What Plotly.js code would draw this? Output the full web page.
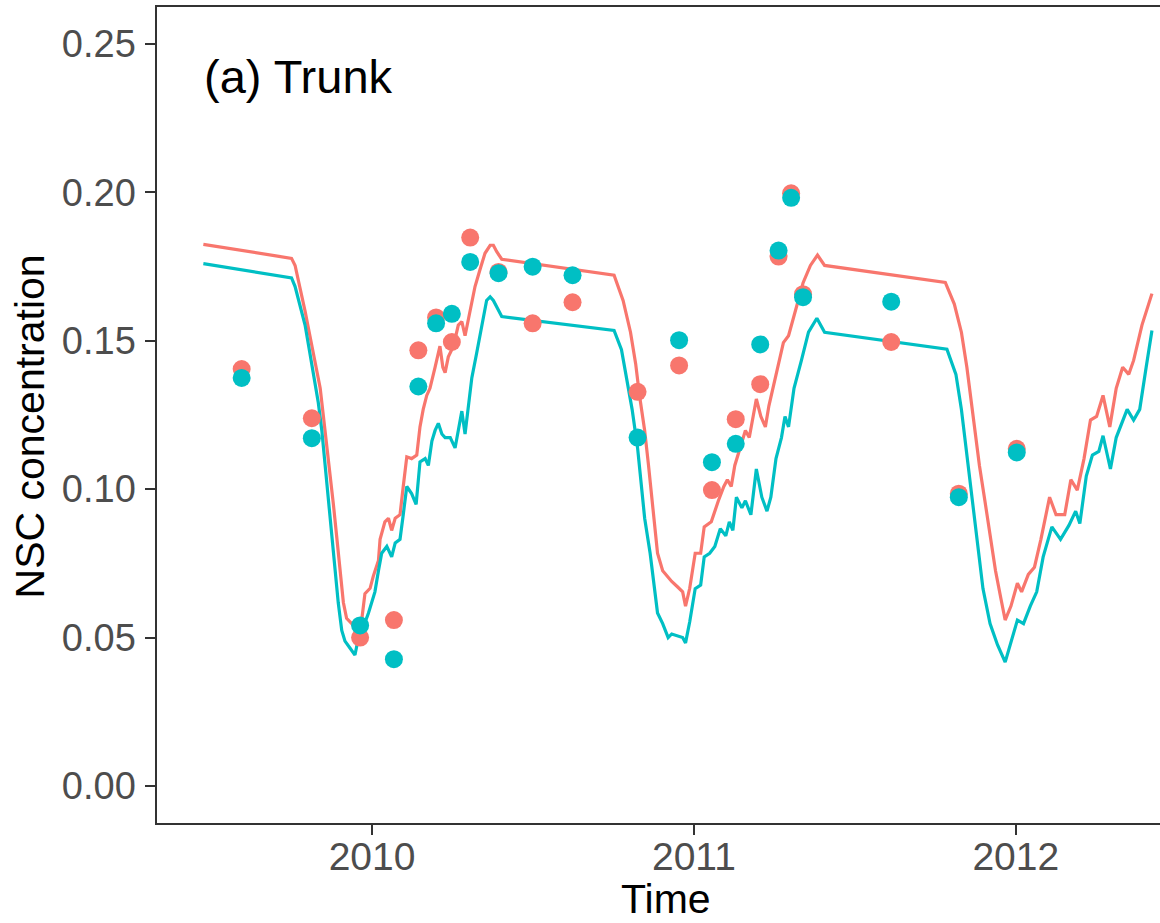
<!DOCTYPE html>
<html>
<head>
<meta charset="utf-8">
<script src="https://cdn.plot.ly/plotly-3.0.1.min.js"></script>
<style>
  html, body { margin: 0; padding: 0; background: #ffffff; overflow: hidden; }
  #chart { width: 1160px; height: 923px; }
</style>
</head>
<body>
<div id="chart"></div>
<script>
// Simulated trunk NSC concentration (decimal year), two model runs
const simTimeA = [2009.476, 2009.750, 2009.761, 2009.776, 2009.792, 2009.807, 2009.823, 2009.839, 2009.849, 2009.859,
  2009.870, 2009.880, 2009.890, 2009.901, 2009.911, 2009.921, 2009.937, 2009.952, 2009.968, 2009.978,
  2009.994, 2010.004, 2010.020, 2010.025, 2010.040, 2010.051, 2010.061, 2010.072, 2010.087, 2010.097,
  2010.108, 2010.123, 2010.139, 2010.149, 2010.159, 2010.170, 2010.180, 2010.196, 2010.211, 2010.220,
  2010.227, 2010.237, 2010.253, 2010.268, 2010.279, 2010.289, 2010.305, 2010.320, 2010.336, 2010.351,
  2010.367, 2010.377, 2010.387, 2010.403, 2010.752, 2010.780, 2010.803, 2010.819, 2010.831, 2010.847,
  2010.859, 2010.870, 2010.887, 2010.903, 2010.920, 2010.931, 2010.948, 2010.965, 2010.974, 2010.987,
  2011.004, 2011.021, 2011.032, 2011.054, 2011.076, 2011.093, 2011.104, 2011.116, 2011.127, 2011.144,
  2011.160, 2011.172, 2011.194, 2011.208, 2011.222, 2011.233, 2011.255, 2011.278, 2011.294, 2011.317,
  2011.339, 2011.362, 2011.384, 2011.406, 2011.781, 2011.809, 2011.831, 2011.848, 2011.859, 2011.876,
  2011.887, 2011.904, 2011.920, 2011.937, 2011.954, 2011.967, 2011.985, 2012.005, 2012.018, 2012.039,
  2012.058, 2012.078, 2012.105, 2012.125, 2012.152, 2012.171, 2012.191, 2012.212, 2012.232, 2012.251,
  2012.271, 2012.292, 2012.312, 2012.332, 2012.351, 2012.366, 2012.392, 2012.423];
const simNscA = [0.1825, 0.1778, 0.1754, 0.1683, 0.1600, 0.1517, 0.1434, 0.1340, 0.1245, 0.1151,
  0.1056, 0.0949, 0.0843, 0.0725, 0.0618, 0.0565, 0.0547, 0.0524, 0.0559, 0.0648,
  0.0666, 0.0707, 0.0760, 0.0831, 0.0890, 0.0902, 0.0861, 0.0902, 0.0914, 0.1009,
  0.1109, 0.1103, 0.1115, 0.1210, 0.1269, 0.1316, 0.1340, 0.1411, 0.1482, 0.1411,
  0.1393, 0.1446, 0.1482, 0.1553, 0.1565, 0.1517, 0.1600, 0.1683, 0.1742, 0.1795,
  0.1822, 0.1822, 0.1801, 0.1775, 0.1721, 0.1636, 0.1529, 0.1423, 0.1316, 0.1198,
  0.1080, 0.0961, 0.0784, 0.0725, 0.0701, 0.0689, 0.0672, 0.0654, 0.0606, 0.0666,
  0.0784, 0.0784, 0.0873, 0.0890, 0.0961, 0.1009, 0.1032, 0.1009, 0.1080, 0.1139,
  0.1198, 0.1174, 0.1304, 0.1245, 0.1210, 0.1281, 0.1387, 0.1494, 0.1517, 0.1612,
  0.1695, 0.1754, 0.1789, 0.1754, 0.1697, 0.1624, 0.1529, 0.1411, 0.1316, 0.1162,
  0.1080, 0.0961, 0.0843, 0.0725, 0.0630, 0.0559, 0.0606, 0.0683, 0.0654, 0.0713,
  0.0737, 0.0831, 0.0973, 0.0914, 0.0914, 0.1032, 0.0997, 0.1103, 0.1233, 0.1245,
  0.1316, 0.1210, 0.1340, 0.1411, 0.1387, 0.1434, 0.1553, 0.1659];

const simTimeB = [2009.476, 2009.750, 2009.761, 2009.776, 2009.792, 2009.807, 2009.818, 2009.833, 2009.844, 2009.854,
  2009.864, 2009.875, 2009.885, 2009.895, 2009.906, 2009.916, 2009.932, 2009.947, 2009.958, 2009.973,
  2009.989, 2009.999, 2010.009, 2010.020, 2010.030, 2010.046, 2010.061, 2010.072, 2010.087, 2010.097,
  2010.108, 2010.123, 2010.137, 2010.149, 2010.165, 2010.175, 2010.186, 2010.196, 2010.206, 2010.217,
  2010.227, 2010.243, 2010.258, 2010.268, 2010.279, 2010.289, 2010.299, 2010.310, 2010.325, 2010.341,
  2010.356, 2010.367, 2010.377, 2010.403, 2010.752, 2010.775, 2010.791, 2010.808, 2010.825, 2010.836,
  2010.847, 2010.864, 2010.887, 2010.903, 2010.920, 2010.931, 2010.948, 2010.965, 2010.974, 2010.987,
  2011.004, 2011.021, 2011.032, 2011.049, 2011.065, 2011.082, 2011.099, 2011.110, 2011.121, 2011.132,
  2011.149, 2011.160, 2011.177, 2011.194, 2011.211, 2011.227, 2011.239, 2011.255, 2011.272, 2011.283,
  2011.294, 2011.311, 2011.334, 2011.356, 2011.382, 2011.406, 2011.786, 2011.814, 2011.831, 2011.848,
  2011.864, 2011.881, 2011.898, 2011.920, 2011.943, 2011.967, 2011.985, 2012.005, 2012.024, 2012.045,
  2012.065, 2012.085, 2012.112, 2012.139, 2012.165, 2012.186, 2012.199, 2012.219, 2012.238, 2012.258,
  2012.271, 2012.294, 2012.312, 2012.332, 2012.346, 2012.366, 2012.385, 2012.405, 2012.423];
const simNscB = [0.1760, 0.1712, 0.1683, 0.1624, 0.1553, 0.1458, 0.1387, 0.1292, 0.1198, 0.1080,
  0.0961, 0.0843, 0.0725, 0.0618, 0.0524, 0.0488, 0.0464, 0.0441, 0.0500, 0.0535,
  0.0583, 0.0618, 0.0654, 0.0725, 0.0784, 0.0807, 0.0772, 0.0819, 0.0831, 0.0914,
  0.1009, 0.0985, 0.0949, 0.1092, 0.1103, 0.1080, 0.1162, 0.1198, 0.1222, 0.1186,
  0.1174, 0.1174, 0.1139, 0.1198, 0.1263, 0.1186, 0.1269, 0.1375, 0.1458, 0.1553,
  0.1636, 0.1648, 0.1636, 0.1582, 0.1535, 0.1470, 0.1375, 0.1269, 0.1139, 0.1020,
  0.0902, 0.0784, 0.0583, 0.0547, 0.0500, 0.0512, 0.0506, 0.0500, 0.0482, 0.0553,
  0.0665, 0.0677, 0.0772, 0.0784, 0.0807, 0.0867, 0.0843, 0.0890, 0.0861, 0.0973,
  0.0937, 0.0961, 0.0914, 0.1068, 0.0973, 0.0926, 0.0973, 0.1103, 0.1174, 0.1245,
  0.1210, 0.1340, 0.1434, 0.1529, 0.1576, 0.1529, 0.1472, 0.1387, 0.1269, 0.1115,
  0.0961, 0.0819, 0.0665, 0.0547, 0.0476, 0.0417, 0.0488, 0.0559, 0.0547, 0.0606,
  0.0654, 0.0772, 0.0873, 0.0831, 0.0878, 0.0926, 0.0884, 0.1044, 0.1115, 0.1127,
  0.1180, 0.1068, 0.1174, 0.1233, 0.1269, 0.1233, 0.1269, 0.1411, 0.1535];

// Measured trunk NSC concentration at sampling dates
const obsTime = [2009.595, 2009.813, 2009.963, 2010.068, 2010.144, 2010.199, 2010.248, 2010.305, 2010.393, 2010.499,
  2010.623, 2010.825, 2010.954, 2011.056, 2011.130, 2011.206, 2011.263, 2011.302, 2011.339, 2011.613,
  2011.823, 2012.003];
const obsNscA = [0.1405, 0.1239, 0.0500, 0.0559, 0.1468, 0.1579, 0.1496, 0.1848, 0.1732, 0.1559,
  0.1630, 0.1328, 0.1417, 0.0997, 0.1236, 0.1354, 0.1784, 0.1997, 0.1657, 0.1496,
  0.0985, 0.1136];
const obsNscB = [0.1375, 0.1172, 0.0541, 0.0427, 0.1346, 0.1559, 0.1591, 0.1766, 0.1728, 0.1750,
  0.1721, 0.1174, 0.1502, 0.1091, 0.1153, 0.1488, 0.1804, 0.1982, 0.1647, 0.1632,
  0.0973, 0.1124];

const xTicks = [2010, 2011, 2012];
const xTickText = ['2010', '2011', '2012'];
const yTicks = [0, 0.05, 0.10, 0.15, 0.20, 0.25];
const yTickText = ['0.00', '0.05', '0.10', '0.15', '0.20', '0.25'];

const colA = '#F8766D';
const colB = '#00BFC4';
const FONT = 'Liberation Sans, Arial, Helvetica, sans-serif';

const traces = [
  { x: simTimeA, y: simNscA, type: 'scatter', mode: 'lines',
    line: { color: colA, width: 3.2 }, hoverinfo: 'x+y', showlegend: false },
  { x: simTimeB, y: simNscB, type: 'scatter', mode: 'lines',
    line: { color: colB, width: 3.2 }, hoverinfo: 'x+y', showlegend: false },
  { x: obsTime, y: obsNscA, type: 'scatter', mode: 'markers',
    marker: { color: colA, size: 18 }, showlegend: false },
  { x: obsTime, y: obsNscB, type: 'scatter', mode: 'markers',
    marker: { color: colB, size: 18 }, showlegend: false }
];

const axisCommon = {
  showgrid: false, zeroline: false, showline: true,
  linecolor: '#333333', linewidth: 1.6,
  ticks: 'outside', ticklen: 10, tickwidth: 2, tickcolor: '#333333',
  tickfont: { family: FONT, size: 38, color: '#4D4D4D' }
};

const layout = {
  width: 1160, height: 923,
  margin: { l: 157, r: 0, t: 7, b: 100, pad: 0 },
  paper_bgcolor: '#ffffff', plot_bgcolor: '#ffffff',
  showlegend: false,
  xaxis: Object.assign({}, axisCommon, {
    range: [2009.332, 2012.448], mirror: true,
    tickmode: 'array', tickvals: xTicks, ticktext: xTickText,
    tickfont: { family: FONT, size: 39, color: '#4D4D4D' },
    ticklabelstandoff: -11
  }),
  yaxis: Object.assign({}, axisCommon, {
    range: [-0.0125, 0.2625], mirror: false,
    tickmode: 'array', tickvals: yTicks, ticktext: yTickText,
    ticklabelstandoff: 2
  }),
  annotations: [
    { text: '(a) Trunk', xref: 'paper', yref: 'paper', x: 0.0449, y: 0.915,
      xanchor: 'left', yanchor: 'middle', showarrow: false,
      font: { family: FONT, size: 47, color: '#000000' } },
    { text: 'Time', xref: 'paper', yref: 'paper', x: 0.5075, y: -0.0935,
      xanchor: 'center', yanchor: 'middle', showarrow: false,
      font: { family: FONT, size: 41, color: '#000000' } },
    { text: 'NSC concentration', xref: 'paper', yref: 'paper', x: -0.1266, y: 0.486,
      xanchor: 'center', yanchor: 'middle', textangle: -90, showarrow: false,
      font: { family: FONT, size: 41, color: '#000000' } }
  ]
};

Plotly.newPlot('chart', traces, layout, { staticPlot: true, displayModeBar: false });
</script>
</body>
</html>
